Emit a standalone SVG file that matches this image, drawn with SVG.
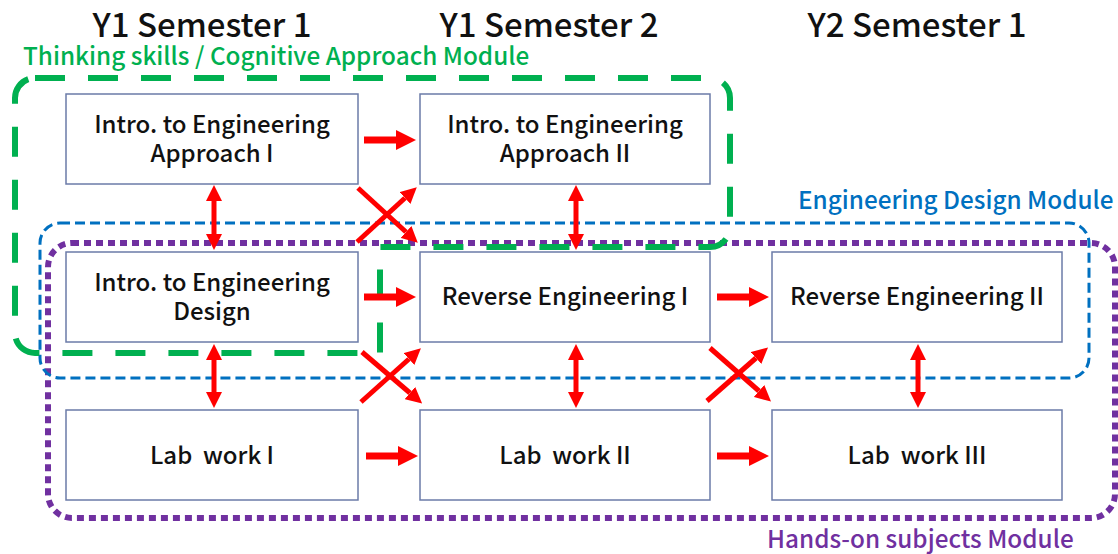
<svg xmlns="http://www.w3.org/2000/svg" width="1118" height="554" viewBox="0 0 1118 554">
<style>
  .title{font-family:"Noto Sans CJK JP","Noto Sans",sans-serif;font-size:33px;font-weight:500;fill:#111;text-anchor:middle}
  .lbl{font-family:"Noto Sans CJK JP","Noto Sans",sans-serif;font-size:24px;font-weight:500;fill:#111;text-anchor:middle;white-space:pre}
  .mod{font-family:"Noto Sans CJK JP","Noto Sans",sans-serif;font-size:24.3px;font-weight:500}
  .box{fill:#fff;stroke:#6b7ba8;stroke-width:1.5}
  .arr{stroke:#ff0000;fill:none}
  .h{stroke-width:7;marker-end:url(#big)}
  .d{stroke-width:5;marker-end:url(#sm)}
  .v{stroke-width:5;marker-end:url(#sm);marker-start:url(#sm)}
</style>
<defs>
  <marker id="big" markerUnits="userSpaceOnUse" markerWidth="20" markerHeight="20" refX="0" refY="10" orient="auto-start-reverse" viewBox="0 0 20 20">
    <path d="M0,0 L20,10 L0,20 Z" fill="#ff0000"/>
  </marker>
  <marker id="sm" markerUnits="userSpaceOnUse" markerWidth="16" markerHeight="16" refX="0" refY="8" orient="auto-start-reverse" viewBox="0 0 16 16">
    <path d="M0,0 L16,8 L0,16 Z" fill="#ff0000"/>
  </marker>
</defs>
<rect width="1118" height="554" fill="#fff"/>

<g id="titles">
  <text class="title" x="202" y="37">Y1 Semester 1</text>
  <text class="title" x="549" y="37">Y1 Semester 2</text>
  <text class="title" x="917" y="37">Y2 Semester 1</text>
</g>

<g id="modules">
  <g id="hands-on-module">
    <rect x="48" y="243" width="1067" height="275" rx="24" fill="none" stroke="#7030a0" stroke-width="6" stroke-dasharray="7 5"/>
    <text class="mod" x="767" y="548" fill="#7030a0">Hands-on subjects Module</text>
  </g>
  <g id="design-module">
    <rect x="40" y="223" width="1049" height="155" rx="20" fill="none" stroke="#0070c0" stroke-width="3" stroke-dasharray="10 5"/>
    <text class="mod" x="798" y="209" fill="#0070c0">Engineering Design Module</text>
  </g>
  <g id="thinking-module">
    <path d="M35,78 H710 A20,20 0 0 1 730,98 V227 A20,20 0 0 1 710,247 H380 V353 H35 A20,20 0 0 1 15,333 V98 A20,20 0 0 1 35,78 Z" fill="none" stroke="#00b050" stroke-width="6" stroke-dasharray="30 23"/>
    <text class="mod" x="23" y="65" fill="#00b050">Thinking skills / Cognitive Approach Module</text>
  </g>
</g>

<g id="node-approach1">
  <rect class="box" x="66" y="94" width="292" height="90"/>
  <text class="lbl" x="212" y="133">Intro. to Engineering</text>
  <text class="lbl" x="212" y="162">Approach I</text>
</g>
<g id="node-approach2">
  <rect class="box" x="420" y="94" width="290" height="90"/>
  <text class="lbl" x="565" y="133">Intro. to Engineering</text>
  <text class="lbl" x="565" y="162">Approach II</text>
</g>
<g id="node-design">
  <rect class="box" x="66" y="252" width="292" height="90"/>
  <text class="lbl" x="212" y="291">Intro. to Engineering</text>
  <text class="lbl" x="212" y="320">Design</text>
</g>
<g id="node-reverse1">
  <rect class="box" x="420" y="252" width="290" height="90"/>
  <text class="lbl" x="565" y="305">Reverse Engineering I</text>
</g>
<g id="node-reverse2">
  <rect class="box" x="772" y="252" width="290" height="90"/>
  <text class="lbl" x="917" y="305">Reverse Engineering II</text>
</g>
<g id="node-lab1">
  <rect class="box" x="66" y="410" width="292" height="90"/>
  <text class="lbl" x="212" y="464">Lab  work I</text>
</g>
<g id="node-lab2">
  <rect class="box" x="420" y="410" width="290" height="90"/>
  <text class="lbl" x="565" y="464">Lab  work II</text>
</g>
<g id="node-lab3">
  <rect class="box" x="772" y="410" width="290" height="90"/>
  <text class="lbl" x="917" y="464">Lab  work III</text>
</g>

<g id="connectors" class="arr">
  <line class="h" x1="364" y1="140" x2="396" y2="140"/>
  <line class="h" x1="364" y1="297" x2="396" y2="297"/>
  <line class="h" x1="717" y1="297" x2="749" y2="297"/>
  <line class="h" x1="366" y1="456" x2="398" y2="456"/>
  <line class="h" x1="717" y1="456" x2="749" y2="456"/>

  <line class="v" x1="214" y1="201" x2="214" y2="234"/>
  <line class="v" x1="576" y1="201" x2="576" y2="234"/>
  <line class="v" x1="214" y1="360" x2="214" y2="392"/>
  <line class="v" x1="576" y1="360" x2="576" y2="392"/>
  <line class="v" x1="918" y1="360" x2="918" y2="392"/>

  <line class="d" x1="358" y1="188" x2="406" y2="232"/>
  <line class="d" x1="357" y1="242" x2="405" y2="198"/>
  <line class="d" x1="362" y1="352" x2="410" y2="393"/>
  <line class="d" x1="361" y1="402" x2="409" y2="359"/>
  <line class="d" x1="710" y1="348" x2="759" y2="391"/>
  <line class="d" x1="707" y1="401" x2="756" y2="358"/>
</g>
</svg>
